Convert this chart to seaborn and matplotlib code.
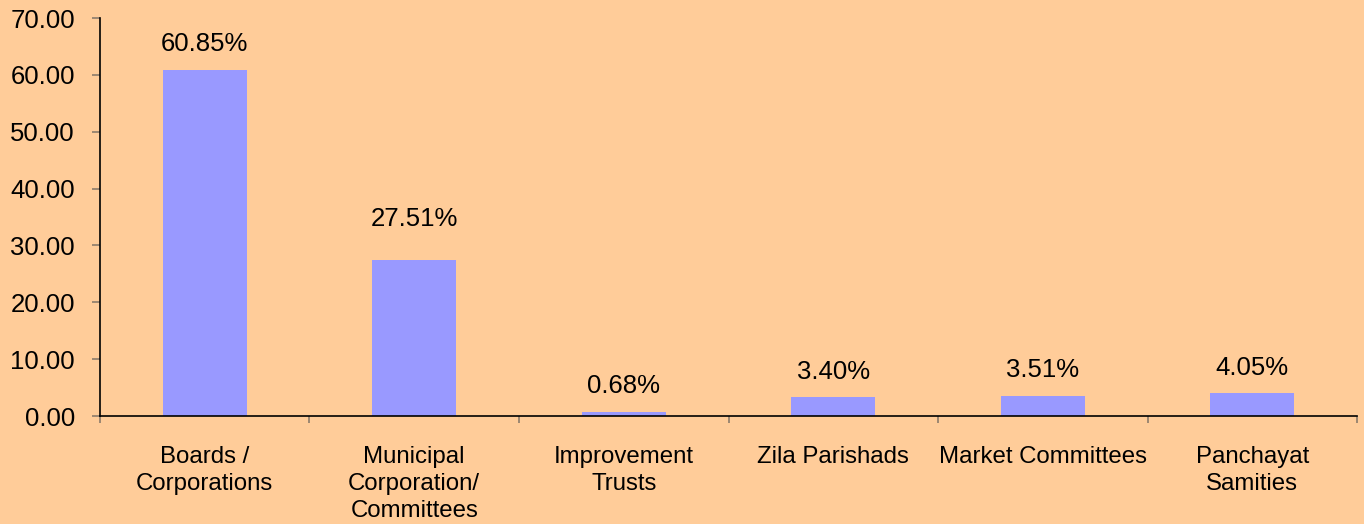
import numpy as np
import pandas as pd
import matplotlib
matplotlib.use("Agg")
import matplotlib.pyplot as plt
import seaborn as sns
from matplotlib.ticker import FixedLocator, FormatStrFormatter

categories = ["Boards /\nCorporations", "Municipal\nCorporation/\nCommittees",
              "Improvement\nTrusts", "Zila Parishads", "Market Committees",
              "Panchayat\nSamities"]
shares = [60.85, 27.51, 0.68, 3.40, 3.51, 4.05]
# label offsets above the bar tops (points)
label_offsets = [19, 29, 19, 18, 19, 18]

df = pd.DataFrame({"category": categories, "share": shares})

sns.set_style("white")
plt.rcParams["font.family"] = ["Liberation Sans", "DejaVu Sans"]

bg = "#FFCC99"
fs = 18.5
fig = plt.figure(figsize=(13.64, 5.24), dpi=100, facecolor=bg)
ax = fig.add_axes([0.0733, 0.2061, 0.9216, 0.7595])
ax.set_facecolor(bg)

sns.barplot(data=df, x="category", y="share", color="#9999FF", width=0.4,
            saturation=1, linewidth=0, ax=ax)

for i, (v, off) in enumerate(zip(shares, label_offsets)):
    ax.annotate(f"{v:.2f}%", (i, v), xytext=(0, off), textcoords="offset points",
                ha="center", va="center", fontsize=fs, color="black")

ax.set_xlim(-0.5, len(categories) - 0.5)
ax.set_ylim(0, 70)
ax.set_yticks(np.arange(0, 71, 10))
ax.yaxis.set_major_formatter(FormatStrFormatter("%.2f"))
ax.set_xlabel("")
ax.set_ylabel("")

ax.xaxis.set_minor_locator(FixedLocator(np.arange(-0.5, len(categories), 1)))
ax.tick_params(axis="x", which="major", bottom=False, pad=18, labelsize=17.3,
               labelcolor="black")
ax.tick_params(axis="x", which="minor", bottom=True, length=5, color="#8B7B6B",
               width=1.2, direction="out")
ax.tick_params(axis="y", left=True, length=6, color="#8B7B6B", width=1.2,
               direction="out", labelsize=fs, labelcolor="black", pad=12)
for t in ax.get_xticklabels():
    t.set_linespacing(1.3)
    t.set_verticalalignment("top")

for s in ["top", "right"]:
    ax.spines[s].set_visible(False)
for s in ["left", "bottom"]:
    ax.spines[s].set_color("black")
    ax.spines[s].set_linewidth(1.2)

fig.savefig("out.png", dpi=100, facecolor=bg)
